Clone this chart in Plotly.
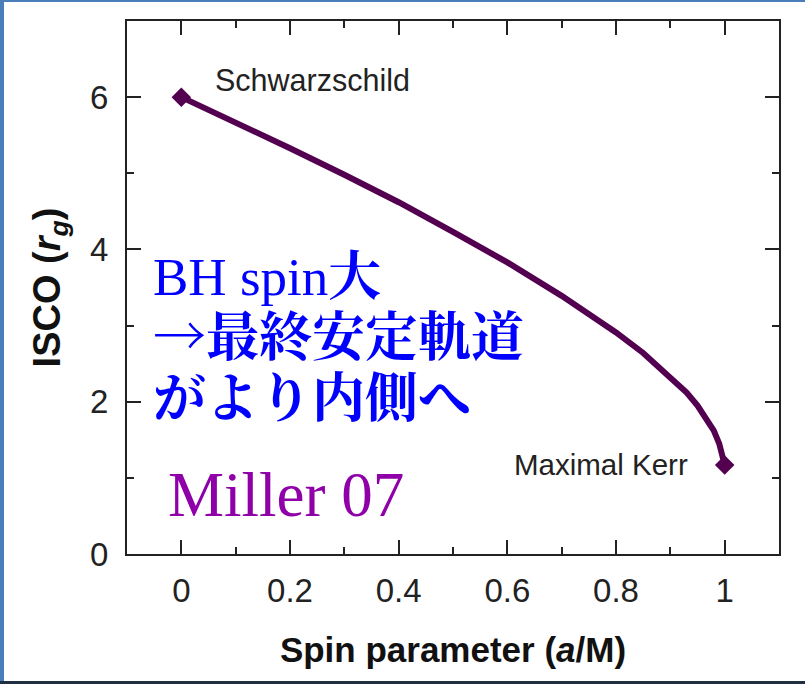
import plotly.graph_objects as go

# ISCO radius (in units of r_g) against black-hole spin a/M
spin = [0.0, 0.1, 0.2, 0.3, 0.4, 0.5, 0.6, 0.7, 0.8, 0.85, 0.9, 0.93, 0.95, 0.97, 0.98, 0.99, 1.0]
isco = [6.0, 5.67, 5.33, 4.98, 4.62, 4.23, 3.83, 3.39, 2.91, 2.64, 2.33, 2.12, 1.95, 1.75, 1.62, 1.45, 1.17]

x_ticks = [0, 0.2, 0.4, 0.6, 0.8, 1]
x_tick_text = ["0", "0.2", "0.4", "0.6", "0.8", "1"]
y_ticks = [0, 2, 4, 6]
y_tick_text = ["0", "2", "4", "6"]

W, H = 805, 684
M_L, M_R, M_T, M_B = 127, 26, 21, 130
LINE_COL = "#52004f"
AXIS_COL = "#222222"
SANS = "Liberation Sans, Arial, sans-serif"
SERIF_JP = "Liberation Serif, Noto Serif CJK JP, Noto Sans CJK JP, serif"
JP_SPAN = '<span style="font-family:\'Noto Serif CJK JP\', \'Noto Sans CJK JP\'"><b>{}</b></span>'


def px_to_paper_x(px):
    return (px - M_L) / (W - M_L - M_R)


def px_to_paper_y(py):
    return (H - M_B - py) / (H - M_T - M_B)


fig = go.Figure()

# ISCO curve
fig.add_trace(go.Scatter(
    x=spin, y=isco, mode="lines",
    line=dict(color=LINE_COL, width=6),
    hoverinfo="skip", showlegend=False,
))

# Endpoint markers: Schwarzschild (a=0) and maximal Kerr
fig.add_trace(go.Scatter(
    x=[spin[0], spin[-1]], y=[isco[0], isco[-1]], mode="markers",
    marker=dict(symbol="diamond", size=15, color=LINE_COL),
    hoverinfo="skip", showlegend=False,
))

axis_common = dict(
    showline=True, linecolor=AXIS_COL, linewidth=2, mirror="ticks",
    ticks="inside", ticklen=14, tickwidth=2, tickcolor=AXIS_COL,
    showgrid=False, zeroline=False,
    tickfont=dict(family=SANS, size=33, color="#222222"),
)

fig.update_xaxes(
    range=[-0.1, 1.1], tickvals=x_ticks, ticktext=x_tick_text,
    minor=dict(ticks="inside", ticklen=7, tickwidth=2, tickcolor=AXIS_COL, dtick=0.1, tick0=0),
    title=dict(text="<b>Spin parameter (<i>a</i>/M)</b>",
               font=dict(family=SANS, size=35, color="#111111"), standoff=30),
    ticklabelstandoff=6,
    **axis_common,
)
fig.update_yaxes(
    range=[0, 7], tickvals=y_ticks, ticktext=y_tick_text,
    minor=dict(ticks="inside", ticklen=7, tickwidth=2, tickcolor=AXIS_COL, dtick=1, tick0=0),
    title=dict(text="<b>ISCO (<i>r</i><sub><i>g</i></sub>)</b>",
               font=dict(family=SANS, size=38, color="#111111"), standoff=18),
    ticklabelstandoff=10,
    **axis_common,
)

annotations = [
    dict(x=0.058, y=6.23, xref="x", yref="y", text="Schwarzschild",
         xanchor="left", yanchor="middle", showarrow=False,
         font=dict(family=SANS, size=30.5, color="#222222")),
    dict(x=0.936, y=1.17, xref="x", yref="y", text="Maximal Kerr",
         xanchor="right", yanchor="middle", showarrow=False,
         font=dict(family=SANS, size=29.5, color="#222222")),
    dict(x=-0.055, y=3.70, xref="x", yref="y", text="BH spin" + JP_SPAN.format("大"),
         xanchor="left", yanchor="middle", showarrow=False,
         font=dict(family=SERIF_JP, size=53, color="#0000ff")),
    dict(x=-0.055, y=2.90, xref="x", yref="y", text=JP_SPAN.format("→最終安定軌道"),
         xanchor="left", yanchor="middle", showarrow=False,
         font=dict(family=SERIF_JP, size=53, color="#0000ff")),
    dict(x=-0.055, y=2.10, xref="x", yref="y", text=JP_SPAN.format("がより内側へ"),
         xanchor="left", yanchor="middle", showarrow=False,
         font=dict(family=SERIF_JP, size=53, color="#0000ff")),
    dict(x=-0.028, y=0.78, xref="x", yref="y", text="Miller 07",
         xanchor="left", yanchor="middle", showarrow=False,
         font=dict(family="Liberation Serif, Times New Roman, serif", size=63, color="#8f00a8")),
]

# Slide frame: blue band on the left, thin blue rule on top, dark rule at bottom
shapes = [
    dict(type="rect", xref="paper", yref="paper",
         x0=px_to_paper_x(0), x1=px_to_paper_x(4), y0=px_to_paper_y(H), y1=px_to_paper_y(0),
         fillcolor="#4a7ebb", line=dict(width=0), layer="above"),
    dict(type="rect", xref="paper", yref="paper",
         x0=px_to_paper_x(0), x1=px_to_paper_x(W), y0=px_to_paper_y(2), y1=px_to_paper_y(0),
         fillcolor="#4a7ebb", line=dict(width=0), layer="above"),
    dict(type="rect", xref="paper", yref="paper",
         x0=px_to_paper_x(0), x1=px_to_paper_x(W), y0=px_to_paper_y(H), y1=px_to_paper_y(681),
         fillcolor="#1f3042", line=dict(width=0), layer="above"),
]

fig.update_layout(
    width=W, height=H,
    margin=dict(l=M_L, r=M_R, t=M_T, b=M_B, pad=0),
    paper_bgcolor="white", plot_bgcolor="white",
    annotations=annotations, shapes=shapes,
    showlegend=False,
)

fig.write_html("out.html")
